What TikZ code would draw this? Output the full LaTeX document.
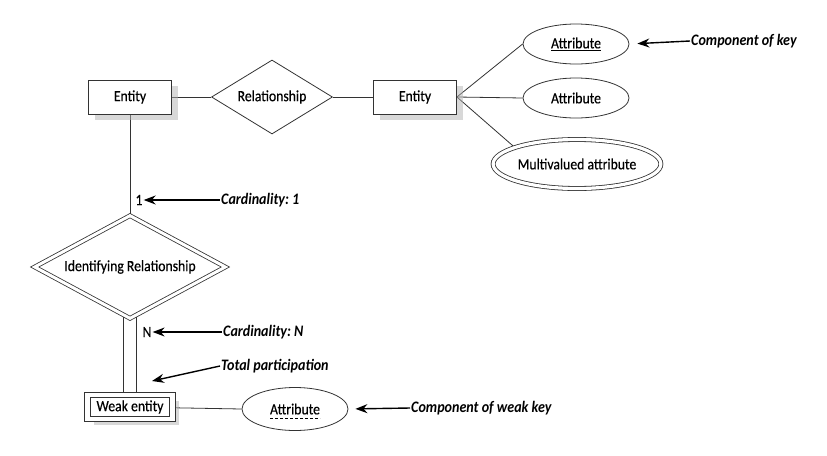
\documentclass[tikz,border=0pt]{standalone}
\usepackage{fontspec}
\setmainfont{Carlito}[FakeStretch=0.88]
\frenchspacing
\usetikzlibrary{arrows.meta, positioning, shapes.geometric, shadows, backgrounds}

\tikzset{
  line/.style={draw=black!80, line width=0.8pt},
  lbl/.style={font=\fontsize{15.6}{17}\selectfont\addfontfeatures{FakeBold=0.4}, inner sep=1pt},
  note/.style={font=\fontsize{16}{18}\selectfont\bfseries\itshape, anchor=west, inner sep=1pt},
  pointer/.style={draw=black, line width=1.4pt, -{Stealth[length=12pt, width=9pt]}},
  entity/.style={line, rectangle, fill=white, lbl, minimum width=83pt, minimum height=34pt,
    drop shadow={shadow xshift=6pt, shadow yshift=-6pt, fill=black!30}},
  weakentity/.style={entity, double, double distance=4.5pt, minimum width=85pt, minimum height=24pt},
  relation/.style={line, diamond, aspect=1.63, fill=white, lbl, inner sep=0pt, minimum width=121pt, minimum height=74pt},
  idrelation/.style={relation, aspect=1.85, double, double distance=3pt, minimum width=191pt, minimum height=103pt},
  attrib/.style={line, ellipse, fill=white, lbl, inner sep=0pt, minimum width=106pt, minimum height=40pt},
  multiattrib/.style={attrib, double, double distance=3.2pt, minimum width=155pt, minimum height=49pt}
}

\begin{document}
\begin{tikzpicture}[x=1pt, y=-1pt]
\useasboundingbox (0,0) rectangle (827,455);
% nodes
\node[entity] (ent1) at (130, 97) {Entity};
\node[relation] (rel) at (272, 97) {Relationship};
\node[entity] (ent2) at (415, 97) {Entity};
\node[attrib] (attr1) at (576, 44) {\underline{Attribute}};
\node[attrib] (attr2) at (576, 98) {Attribute};
\node[multiattrib] (multi) at (577, 164) {Multivalued attribute};

\node[idrelation] (idrel) at (130, 267) {Identifying Relationship};
\node[weakentity] (weak) at (130, 407) {Weak entity};
\node[attrib, minimum height=43pt] (wattr) at (295, 409) {Attribute};
\draw [line width=0.6pt, dashed, dash pattern=on 3pt off 2pt]
  ([xshift=-25pt, yshift=-4pt]wattr.base) -- ([xshift=25pt, yshift=-4pt]wattr.base);

\node[lbl] (one) at (139, 200) {1};
\node[lbl] (many) at (147, 332) {N};

\node[note] (ck) at (690, 41) {Component of key};
\node[note] (card1) at (220, 200) {Cardinality: 1};
\node[note] (cardN) at (222, 332) {Cardinality: N};
\node[note] (tp) at (220, 366) {Total participation};
\node[note] (cwk) at (410, 408) {Component of weak key};
\coordinate (tptip) at (152, 381);

% lines
\begin{pgfonlayer}{background}
\draw [line] (ent1.east) -- (rel.west);
\draw [line] (rel.east) -- (ent2.west);
\draw [line] (ent2.east) -- (attr1.west);
\draw [line] (ent2.east) -- (attr2.west);
\draw [line] (ent2.east) -- (multi.165);
\draw [line] (ent1.center) -- (idrel.center);
\draw [line, double, double distance=12.5pt] (idrel.center) -- (weak.center);
\draw [line] (weak.center) -- (wattr.west);
\end{pgfonlayer}

% arrows
\draw [pointer, shorten >=8pt] (ck.west) -- (attr1.east);
\draw [pointer] (card1.west) -- (one.east);
\draw [pointer] (cardN.west) -- (many.east);
\draw [pointer] (tp.west) -- (tptip);
\draw [pointer, shorten >=7pt] (cwk.west) -- (wattr.east);
\end{tikzpicture}
\end{document}
